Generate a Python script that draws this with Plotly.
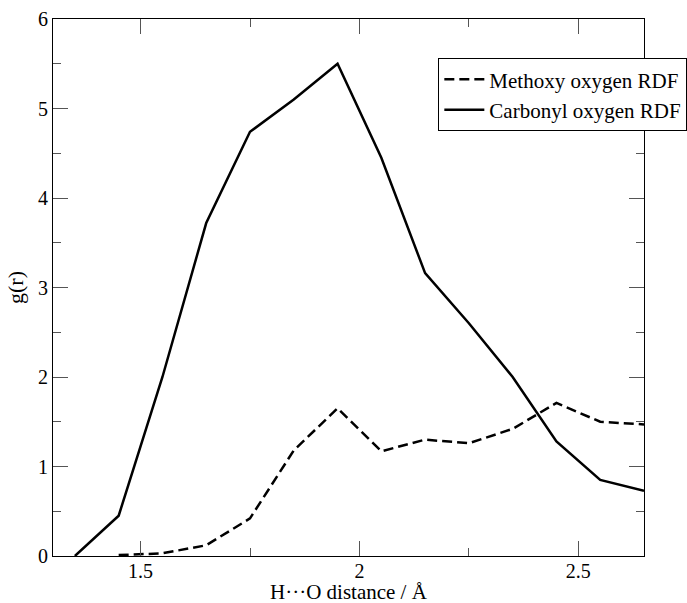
import plotly.graph_objects as go

x_carbonyl = [1.35, 1.45, 1.55, 1.65, 1.75, 1.85, 1.95, 2.05, 2.15, 2.25, 2.35, 2.45, 2.55, 2.65]
g_carbonyl = [0.0, 0.45, 2.0, 3.72, 4.74, 5.1, 5.5, 4.45, 3.16, 2.6, 2.0, 1.28, 0.85, 0.73]

x_methoxy = [1.45, 1.55, 1.65, 1.75, 1.85, 1.95, 2.05, 2.15, 2.25, 2.35, 2.45, 2.55, 2.65]
g_methoxy = [0.01, 0.03, 0.12, 0.42, 1.18, 1.65, 1.17, 1.3, 1.26, 1.42, 1.71, 1.5, 1.47]

x_ticks = [1.5, 2, 2.5]
x_ticklabels = ["1.5", "2", "2.5"]
y_ticks = [0, 1, 2, 3, 4, 5, 6]

x_title = "H···O distance / Å"
y_title = "g(r)"

FONT = "Liberation Serif"

fig = go.Figure()
fig.add_trace(go.Scatter(x=x_methoxy, y=g_methoxy, mode="lines",
                         name="Methoxy oxygen RDF",
                         line=dict(color="black", width=2.5, dash="10px,5px")))
fig.add_trace(go.Scatter(x=x_carbonyl, y=g_carbonyl, mode="lines",
                         name="Carbonyl oxygen RDF",
                         line=dict(color="black", width=2.5)))

axis_common = dict(
    showgrid=False, zeroline=False, showline=True, linecolor="black", linewidth=1,
    mirror="ticks", ticks="inside", ticklen=15, tickcolor="#555", tickwidth=1,
    tickfont=dict(family=FONT, size=20, color="black"),
)

fig.update_xaxes(range=[1.3, 2.65], tickvals=x_ticks, ticktext=x_ticklabels,
                 minor=dict(ticks="inside", ticklen=8, dtick=0.25, tick0=0, tickcolor="#555"),
                 ticklabelstandoff=-3,
                 **axis_common)
fig.update_yaxes(range=[0, 6], tickvals=y_ticks,
                 minor=dict(ticks="inside", ticklen=8, dtick=0.5, tick0=0, tickcolor="#555"),
                 title=dict(text=y_title, font=dict(family=FONT, size=22, color="black"), standoff=8),
                 **axis_common)

fig.add_annotation(text=x_title, xref="paper", yref="paper", x=0.5, y=-0.092,
                   xanchor="center", yanchor="bottom", showarrow=False, borderpad=0,
                   font=dict(family=FONT, size=21, color="black"))

fig.update_layout(
    width=687, height=603,
    margin=dict(l=53, r=43, t=19, b=47, autoexpand=False),
    paper_bgcolor="white", plot_bgcolor="white",
    font=dict(family=FONT, size=21, color="black"),
    legend=dict(x=0.652, y=0.927, xanchor="left", yanchor="top",
                bgcolor="white", bordercolor="black", borderwidth=1,
                font=dict(family=FONT, size=21, color="black"),
                tracegroupgap=0, itemwidth=40),
    showlegend=True,
)

fig.write_html("out.html")
